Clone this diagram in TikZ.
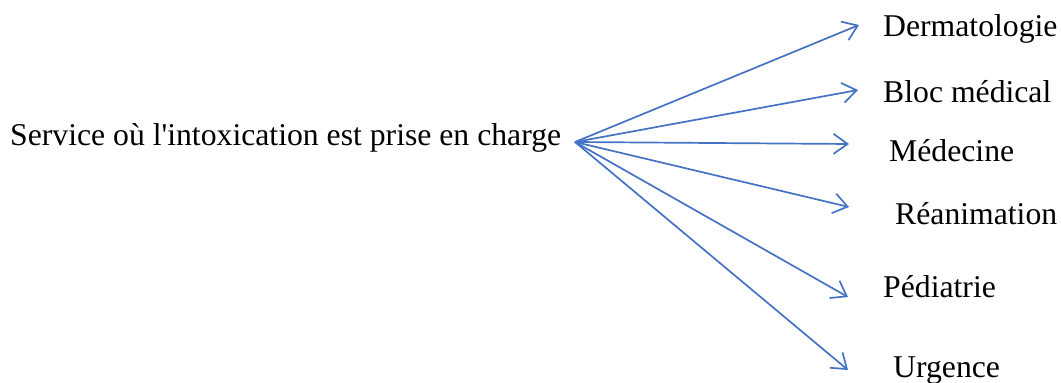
\documentclass[tikz,border=0pt]{standalone}
\usepackage{fontspec}
\newfontfamily\tnr{Liberation Serif}
\usetikzlibrary{arrows.meta}
\definecolor{arrowblue}{RGB}{68,114,196}
\begin{document}
\begin{tikzpicture}[x=1pt,y=1pt,
  lbl/.style={anchor=base west,inner sep=0pt,font=\tnr\fontsize{31.7}{36}\selectfont},
  conn/.style={draw=arrowblue,line width=1.7pt,-{Straight Barb[length=14pt,width=20pt,line width=1.7pt]}}]
\useasboundingbox (0,0) rectangle (1061,383);
\node[lbl] (main) at (10,237) {Service où l'intoxication est prise en charge};
\coordinate (src) at (575,241);
\node[lbl] (derma) at (883,346) {Dermatologie};
\node[lbl] (bloc) at (883,280) {Bloc médical};
\node[lbl] (med) at (889,221) {Médecine};
\node[lbl] (rea) at (895,158) {Réanimation};
\node[lbl] (ped) at (883,85) {Pédiatrie};
\node[lbl] (urg) at (893,5) {Urgence};
\coordinate (tderma) at (859,358);
\coordinate (tbloc) at (858,293);
\coordinate (tmed) at (849,239);
\coordinate (trea) at (849,176);
\coordinate (tped) at (848,86);
\coordinate (turg) at (848,13);
\foreach \t in {tderma,tbloc,tmed,trea,tped,turg}
  \draw[conn] (src) -- (\t);
\end{tikzpicture}
\end{document}
